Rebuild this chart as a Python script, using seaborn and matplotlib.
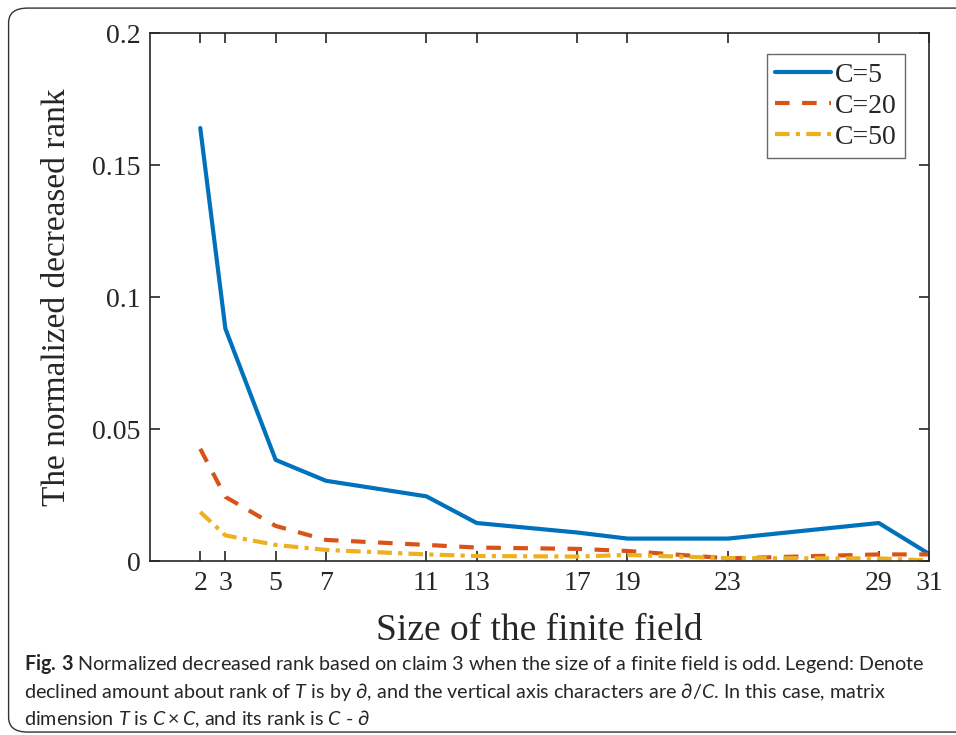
import matplotlib
matplotlib.use("Agg")
import matplotlib.pyplot as plt
import pandas as pd
import seaborn as sns
from matplotlib.patches import FancyBboxPatch

# field sizes (odd primes) and normalized decreased rank for each C
field_size = [2, 3, 5, 7, 11, 13, 17, 19, 23, 29, 31]
c5 = [0.164, 0.088, 0.0383, 0.0304, 0.0245, 0.0144, 0.0108, 0.0085, 0.0085, 0.0144, 0.0027]
c20 = [0.0425, 0.0243, 0.0133, 0.0080, 0.0061, 0.0051, 0.0046, 0.0038, 0.0010, 0.0025, 0.0025]
c50 = [0.0186, 0.0097, 0.0061, 0.0042, 0.0025, 0.0019, 0.0017, 0.0023, 0.0011, 0.0010, 0.0002]
labels = ["C=5", "C=20", "C=50"]
yticks = [0, 0.05, 0.1, 0.15, 0.2]
ytick_labels = ["0", "0.05", "0.1", "0.15", "0.2"]

df = pd.concat([
    pd.DataFrame({"size": field_size, "rank": c5, "C": labels[0]}),
    pd.DataFrame({"size": field_size, "rank": c20, "C": labels[1]}),
    pd.DataFrame({"size": field_size, "rank": c50, "C": labels[2]}),
])

sns.set_style("ticks")
plt.rcParams["font.family"] = ["Liberation Serif", "DejaVu Serif"]
plt.rcParams["mathtext.fontset"] = "custom"
plt.rcParams["mathtext.rm"] = "Lato"
plt.rcParams["mathtext.it"] = "Lato:italic"
plt.rcParams["mathtext.bf"] = "Lato:bold"

fig = plt.figure(figsize=(9.56, 7.35), dpi=100)
ax = fig.add_axes([0.1569, 0.2367, 0.9718 - 0.1569, 0.9551 - 0.2367])

palette = {"C=5": "#0072BD", "C=20": "#D95319", "C=50": "#EDB120"}
dashes = {"C=5": "", "C=20": (3.5, 3), "C=50": (3.5, 1.5, 1, 1.5)}
sns.lineplot(data=df, x="size", y="rank", hue="C", style="C", palette=palette,
             dashes=dashes, linewidth=3, ax=ax)

ax.set_xlim(0, 31)
ax.set_ylim(0, 0.2)
ax.set_xticks(field_size)
ax.set_xticklabels([str(v) for v in field_size])
ax.set_yticks(yticks)
ax.set_yticklabels(ytick_labels)
ax.tick_params(direction="in", length=7, width=1.2, labelsize=20, top=True, right=True, pad=7)
for s in ax.spines.values():
    s.set_visible(True)
    s.set_linewidth(1.2)
    s.set_color("#262626")
ax.set_xlabel("Size of the finite field", fontsize=27, labelpad=13)
ax.set_ylabel("The normalized decreased rank", fontsize=24, labelpad=14)

leg = ax.legend(loc="upper right", bbox_to_anchor=(0.9695, 0.960), borderaxespad=0,
                fontsize=20, frameon=True, fancybox=False, handlelength=2.0,
                handletextpad=0.15, labelspacing=0.2, borderpad=0.3)
leg.get_frame().set_edgecolor("#444444")
leg.get_frame().set_linewidth(1.0)

# rounded frame around the whole figure (runs off the right edge)
fig.patches.append(FancyBboxPatch((0.009, 0.004), 1.05, 0.985,
                                  boxstyle="round,pad=0,rounding_size=0.02",
                                  transform=fig.transFigure, fill=False,
                                  edgecolor="#333333", linewidth=1.0))

cap_size = 14.2
fig.text(0.025, 0.0884, r"$\mathbf{Fig.\,3}$ Normalized decreased rank based on claim 3 when the size of a finite field is odd. Legend: Denote",
         fontsize=cap_size, family="Lato", va="baseline")
fig.text(0.025, 0.0503, r"declined amount about rank of $T$ is by $\partial$, and the vertical axis characters are $\partial/C$. In this case, matrix",
         fontsize=cap_size, family="Lato", va="baseline")
fig.text(0.025, 0.0136, r"dimension $T$ is $C \times C$, and its rank is $C$ - $\partial$",
         fontsize=cap_size, family="Lato", va="baseline")

fig.savefig("out.png", dpi=100)
